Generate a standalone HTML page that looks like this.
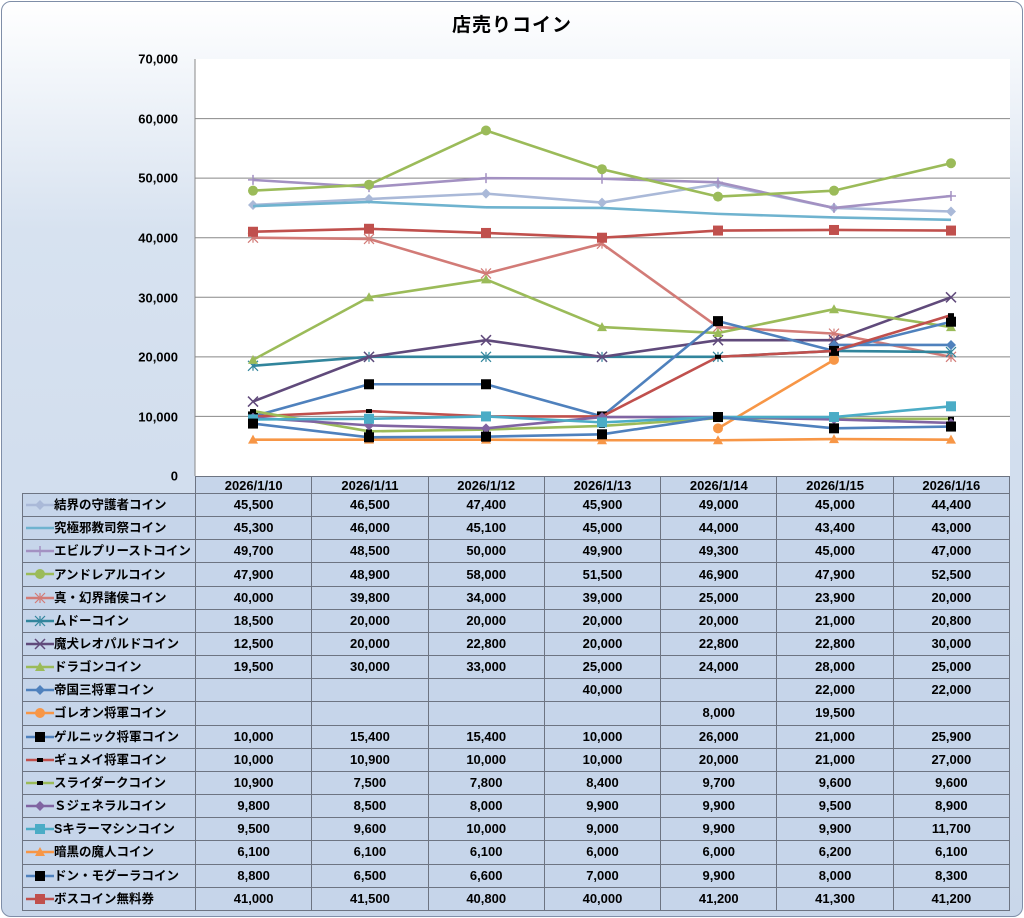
<!DOCTYPE html><html><head><meta charset="utf-8"><style>
body{margin:0;width:1024px;height:918px;overflow:hidden;background:#fff;font-family:"Liberation Sans","Noto Sans CJK JP",sans-serif}
#f{position:absolute;left:1px;top:1px;width:1020px;height:914px;border:1px solid #7f8ea8;border-radius:10px;background:linear-gradient(#ffffff,#d7e2f0 25%,#c9d7ea);}
#t{position:absolute;top:10px;left:0;width:1024px;text-align:center;font-size:19px;font-weight:bold;letter-spacing:1px}
.yl{position:absolute;right:846px;font-size:13px;font-weight:bold;transform:translateY(-50%)}
table{position:absolute;left:22px;top:476px;border-collapse:collapse;font-size:13px;font-weight:bold;table-layout:fixed;width:988px}
td{border:1px solid #6d7482;height:23px;box-sizing:border-box;padding:0;text-align:center;background:#c6d5ea;line-height:20px;overflow:hidden}
tr{height:23.17px}
td.n{text-align:left;position:relative;padding-left:31px;white-space:nowrap;font-size:12.5px}
td.e{border:none;border-right:1px solid #6d7482;border-bottom:1px solid #6d7482;background:transparent}
tr.h td{height:17px;line-height:15px}
.m{position:absolute;left:3px;top:5px}
</style></head><body><div id="f"></div><div id="t">店売りコイン</div>
<div class="yl" style="top:59px">70,000</div><div class="yl" style="top:119px">60,000</div><div class="yl" style="top:178px">50,000</div><div class="yl" style="top:238px">40,000</div><div class="yl" style="top:298px">30,000</div><div class="yl" style="top:357px">20,000</div><div class="yl" style="top:417px">10,000</div><div class="yl" style="top:476px">0</div>
<svg id="c" width="1024" height="918" style="position:absolute;left:0;top:0"></svg>
<table id="tb"><colgroup><col style="width:173px"><col><col><col><col><col><col><col></colgroup><tr class="h" style="height:17px"><td class="e"></td><td>2026/1/10</td><td>2026/1/11</td><td>2026/1/12</td><td>2026/1/13</td><td>2026/1/14</td><td>2026/1/15</td><td>2026/1/16</td></tr></table>
<script>
var S=[
["結界の守護者コイン","#aab9d8","d",[45500,46500,47400,45900,49000,45000,44400]],
["究極邪教司祭コイン","#6fb3cf","n",[45300,46000,45100,45000,44000,43400,43000]],
["エビルプリーストコイン","#a391c2","p",[49700,48500,50000,49900,49300,45000,47000]],
["アンドレアルコイン","#9bbb59","o",[47900,48900,58000,51500,46900,47900,52500]],
["真・幻界諸侯コイン","#d27b77","s",[40000,39800,34000,39000,25000,23900,20000]],
["ムドーコイン","#31859c","s",[18500,20000,20000,20000,20000,21000,20800]],
["魔犬レオパルドコイン","#604a7b","x",[12500,20000,22800,20000,22800,22800,30000]],
["ドラゴンコイン","#9bbb59","t",[19500,30000,33000,25000,24000,28000,25000]],
["帝国三将軍コイン","#4f81bd","d",[null,null,null,40000,null,22000,22000]],
["ゴレオン将軍コイン","#f79646","o",[null,null,null,null,8000,19500,null]],
["ゲルニック将軍コイン","#4f81bd","b",[10000,15400,15400,10000,26000,21000,25900]],
["ギュメイ将軍コイン","#c0504d","h",[10000,10900,10000,10000,20000,21000,27000]],
["スライダークコイン","#9bbb59","h",[10900,7500,7800,8400,9700,9600,9600]],
["Ｓジェネラルコイン","#8064a2","d",[9800,8500,8000,9900,9900,9500,8900]],
["Sキラーマシンコイン","#4bacc6","q",[9500,9600,10000,9000,9900,9900,11700]],
["暗黒の魔人コイン","#f79646","t",[6100,6100,6100,6000,6000,6200,6100]],
["ドン・モグーラコイン","#4f81bd","b",[8800,6500,6600,7000,9900,8000,8300]],
["ボスコイン無料券","#c0504d","q",[41000,41500,40800,40000,41200,41300,41200]]];
var X=[253,369,486,602,718,834,951],Y=function(v){return 476-v*417/70000};
var g='<rect x="195" y="59" width="815" height="417" fill="#fff"/>';
for(var k=1;k<=6;k++){var y=476-k*417/7;g+='<line x1="195" x2="1010" y1="'+y+'" y2="'+y+'" stroke="#888" stroke-width="1"/>';}
g+='<line x1="195" x2="195" y1="59" y2="476" stroke="#888"/>';
function mk(t,c,x,y){
 if(t=="d")return '<path d="M'+(x-5)+' '+y+'L'+x+' '+(y-5)+'L'+(x+5)+' '+y+'L'+x+' '+(y+5)+'Z" fill="'+c+'"/>';
 if(t=="o")return '<circle cx="'+x+'" cy="'+y+'" r="5" fill="'+c+'"/>';
 if(t=="t")return '<path d="M'+(x-5)+' '+(y+4)+'L'+x+' '+(y-5)+'L'+(x+5)+' '+(y+4)+'Z" fill="'+c+'"/>';
 if(t=="q")return '<rect x="'+(x-5)+'" y="'+(y-5)+'" width="10" height="10" fill="'+c+'"/>';
 if(t=="b")return '<rect x="'+(x-5)+'" y="'+(y-5)+'" width="10" height="10" fill="#000"/>';
 if(t=="h")return '<rect x="'+(x-3)+'" y="'+(y-2)+'" width="6" height="4" fill="#000"/>';
 if(t=="p")return '<path d="M'+(x-5)+' '+y+'H'+(x+5)+'M'+x+' '+(y-5)+'V'+(y+5)+'" stroke="'+c+'" stroke-width="1.5"/>';
 if(t=="x")return '<path d="M'+(x-5)+' '+(y-5)+'L'+(x+5)+' '+(y+5)+'M'+(x+5)+' '+(y-5)+'L'+(x-5)+' '+(y+5)+'" stroke="'+c+'" stroke-width="1.5"/>';
 if(t=="s")return '<path d="M'+(x-5)+' '+(y-5)+'L'+(x+5)+' '+(y+5)+'M'+(x+5)+' '+(y-5)+'L'+(x-5)+' '+(y+5)+'M'+x+' '+(y-5)+'V'+(y+5)+'" stroke="'+c+'" stroke-width="1.2"/>';
 return '';}
S.forEach(function(s){var v=s[3];
 for(var i=0;i<6;i++)if(v[i]!=null&&v[i+1]!=null)g+='<line x1="'+X[i]+'" y1="'+Y(v[i])+'" x2="'+X[i+1]+'" y2="'+Y(v[i+1])+'" stroke="'+s[1]+'" stroke-width="2.6"/>';
 for(var i=0;i<7;i++)if(v[i]!=null&&!(s[0].indexOf("帝国")==0&&i==3))g+=mk(s[2],s[1],X[i],Y(v[i]));
});
document.getElementById('c').innerHTML=g;
var tb=document.getElementById('tb'),h='';
S.forEach(function(s){h+='<tr><td class="n"><svg class="m" width="28" height="12" style="overflow:visible"><line x1="0" x2="28" y1="6" y2="6" stroke="'+s[1]+'" stroke-width="2.6"/>'+mk(s[2],s[1],14,6)+'</svg>'+s[0]+'</td>';
 s[3].forEach(function(v){h+='<td>'+(v==null?'':v.toLocaleString('en-US'))+'</td>'});h+='</tr>';});
tb.insertAdjacentHTML('beforeend',h);
</script></body></html>
